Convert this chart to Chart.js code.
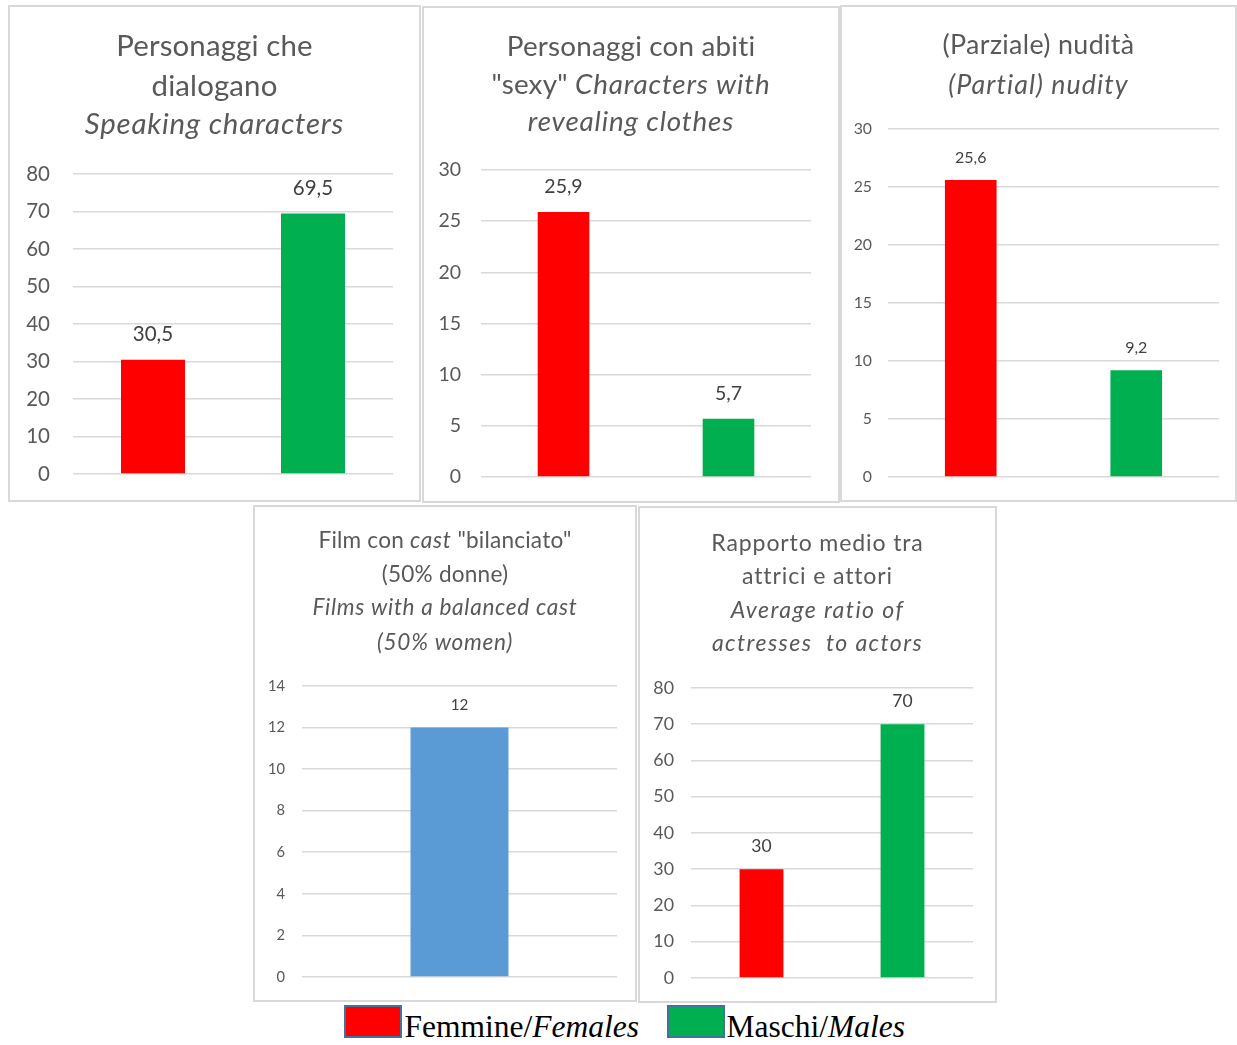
<!DOCTYPE html>
<html>
<head>
<meta charset="utf-8">
<script src="https://cdn.jsdelivr.net/npm/chart.js@4.4.0/dist/chart.umd.min.js"></script>
<style>
  html, body { margin: 0; padding: 0; background: #ffffff; }
  body { position: relative; width: 1237px; height: 1045px; overflow: hidden; font-family: Lato, sans-serif; }
  canvas { position: absolute; }
  .frame { position: absolute; box-sizing: border-box; border: 2px solid #d9d9d9; pointer-events: none; }
  .swatch { position: absolute; box-sizing: border-box; border: 2px solid #41719c; }
  .ltext { position: absolute; font-family: "Liberation Serif", "Times New Roman", serif; font-size: 31.5px; line-height: 32px; color: #000; white-space: nowrap; }
</style>
</head>
<body>
<canvas id="c1"></canvas>
<canvas id="c2"></canvas>
<canvas id="c3"></canvas>
<canvas id="c4"></canvas>
<canvas id="c5"></canvas>
<div id="legend"></div>
<script>
// ---------------- DATA ----------------
const categories = ["Femmine/Females", "Maschi/Males"];
const speakingValues = [30.5, 69.5];
const revealingValues = [25.9, 5.7];
const nudityValues = [25.6, 9.2];
const balancedCategories = ["Film con cast bilanciato"];
const balancedValues = [12];
const ratioValues = [30, 70];

const speakingTicks = [0, 10, 20, 30, 40, 50, 60, 70, 80];
const revealingTicks = [0, 5, 10, 15, 20, 25, 30];
const nudityTicks = [0, 5, 10, 15, 20, 25, 30];
const balancedTicks = [0, 2, 4, 6, 8, 10, 12, 14];
const ratioTicks = [0, 10, 20, 30, 40, 50, 60, 70, 80];

const genderColors = ["#FF0000", "#00B050"];
const balancedColors = ["#5B9BD5"];

// ---------------- PLUGINS ----------------
function makeTitlePlugin(spec) {
  return {
    id: 'richTitle',
    afterDraw(chart) {
      const ctx = chart.ctx;
      ctx.save();
      ctx.fillStyle = '#595959';
      ctx.textBaseline = 'middle';
      ctx.textAlign = 'left';
      const cx = chart.width / 2;
      const setFont = s => {
        ctx.font = (s.i ? 'italic ' : '') + spec.size + 'px Lato';
        ctx.letterSpacing = (s.i ? spec.lsi : spec.ls) + 'px';
      };
      spec.lines.forEach((segs, k) => {
        let total = 0;
        const ws = segs.map(s => { setFont(s); const w = ctx.measureText(s.t).width; total += w; return w; });
        let x = cx - total / 2;
        segs.forEach((s, j) => { setFont(s); ctx.fillText(s.t, x, spec.ys[k]); x += ws[j]; });
      });
      ctx.restore();
    }
  };
}
function makeLabelPlugin(size, offset) {
  return {
    id: 'valueLabels',
    afterDatasetsDraw(chart) {
      const ctx = chart.ctx;
      ctx.save();
      ctx.font = size + 'px Lato';
      ctx.fillStyle = '#404040';
      ctx.textAlign = 'center';
      ctx.textBaseline = 'middle';
      const ds = chart.data.datasets[0];
      chart.getDatasetMeta(0).data.forEach((bar, i) => {
        ctx.fillText(String(ds.data[i]).replace('.', ','), bar.x, bar.y - offset);
      });
      ctx.restore();
    }
  };
}

function makeChart(id, g, labels, values, colors, ticks, st, titleSpec) {
  const canvas = document.getElementById(id);
  canvas.width = g.w; canvas.height = g.h;
  canvas.style.left = g.x + 'px'; canvas.style.top = g.y + 'px';
  canvas.style.width = g.w + 'px'; canvas.style.height = g.h + 'px';
  const fr = document.createElement('div');
  fr.className = 'frame';
  fr.style.left = g.x + 'px'; fr.style.top = g.y + 'px';
  fr.style.width = g.w + 'px'; fr.style.height = g.h + 'px';
  document.body.appendChild(fr);
  new Chart(canvas, {
    type: 'bar',
    data: {
      labels: labels,
      datasets: [{ data: values, backgroundColor: colors, borderWidth: 0, barPercentage: 1, categoryPercentage: st.barFrac }]
    },
    options: {
      responsive: false, animation: false, events: [],
      devicePixelRatio: 1,
      layout: { padding: { left: 0, right: g.right, top: g.top, bottom: g.bottom } },
      plugins: { legend: { display: false }, tooltip: { enabled: false }, title: { display: false } },
      scales: {
        x: { display: false },
        y: {
          min: ticks[0], max: ticks[ticks.length - 1],
          afterBuildTicks: s => { s.ticks = ticks.map(v => ({ value: v })); },
          afterFit: s => { s.width = g.left; s.paddingTop = 0; s.paddingBottom = 0; },
          grid: { color: '#d9d9d9', lineWidth: 1.6, drawTicks: false },
          border: { display: false },
          ticks: { padding: g.tickPad, color: '#595959', font: { family: 'Lato', size: st.tick } }
        }
      }
    },
    plugins: [makeTitlePlugin(titleSpec), makeLabelPlugin(st.label, st.offset)]
  });
}

// ---------------- CHARTS ----------------
makeChart('c1', { x: 8, y: 5, w: 413, h: 497, left: 65, right: 28, top: 169, bottom: 28, tickPad: 23 },
  categories, speakingValues, genderColors, speakingTicks,
  { barFrac: 0.4, tick: 20.5, label: 20.5, offset: 25 },
  { size: 29.4, ls: 0.15, lsi: 0.8, ys: [42, 82, 120], lines: [
    [{ t: 'Personaggi che' }],
    [{ t: 'dialogano' }],
    [{ t: 'Speaking characters', i: true }]
  ] });

makeChart('c2', { x: 422, y: 6, w: 418, h: 497, left: 59, right: 29, top: 164, bottom: 26, tickPad: 20 },
  categories, revealingValues, genderColors, revealingTicks,
  { barFrac: 0.313, tick: 19.5, label: 19.5, offset: 25 },
  { size: 27.8, ls: 0.2, lsi: 0.85, ys: [41, 79, 116], lines: [
    [{ t: 'Personaggi con abiti' }],
    [{ t: '"sexy" ' }, { t: 'Characters with', i: true }],
    [{ t: 'revealing clothes', i: true }]
  ] });

makeChart('c3', { x: 840, y: 5, w: 397, h: 497, left: 48, right: 18, top: 124, bottom: 25, tickPad: 16 },
  categories, nudityValues, genderColors, nudityTicks,
  { barFrac: 0.312, tick: 15.8, label: 16, offset: 22 },
  { size: 26.8, ls: 0.35, lsi: 1.05, ys: [40, 80], lines: [
    [{ t: '(Parziale) nudità' }],
    [{ t: '(Partial) nudity', i: true }]
  ] });

makeChart('c4', { x: 253, y: 505, w: 384, h: 497, left: 49, right: 20, top: 181, bottom: 25, tickPad: 17 },
  balancedCategories, balancedValues, balancedColors, balancedTicks,
  { barFrac: 0.311, tick: 14.7, label: 15.2, offset: 22 },
  { size: 22.6, ls: 0.2, lsi: 0.7, ys: [36, 70, 103, 138], lines: [
    [{ t: 'Film con ' }, { t: 'cast', i: true }, { t: ' "bilanciato"' }],
    [{ t: '(50% donne)' }],
    [{ t: 'Films with a balanced cast', i: true }],
    [{ t: '(50% women)', i: true }]
  ] });

makeChart('c5', { x: 638, y: 506, w: 359, h: 497, left: 53, right: 24, top: 182, bottom: 25, tickPad: 17 },
  categories, ratioValues, genderColors, ratioTicks,
  { barFrac: 0.311, tick: 17.8, label: 17.5, offset: 23 },
  { size: 23.1, ls: 0.85, lsi: 1.4, ys: [37.5, 71, 104.5, 138], lines: [
    [{ t: 'Rapporto medio tra' }],
    [{ t: 'attrici e attori' }],
    [{ t: 'Average ratio of', i: true }],
    [{ t: 'actresses  to actors', i: true }]
  ] });

// ---------------- LEGEND ----------------
const legendPos = [{ box: 344, text: 404.5 }, { box: 667, text: 726.5 }];
const legend = document.getElementById('legend');
categories.forEach((c, i) => {
  const [it, en] = c.split('/');
  const sw = document.createElement('div');
  sw.className = 'swatch';
  sw.style.cssText = `left:${legendPos[i].box}px;top:1005px;width:58px;height:33px;background:${genderColors[i]}`;
  legend.appendChild(sw);
  const tx = document.createElement('div');
  tx.className = 'ltext';
  tx.style.left = legendPos[i].text + 'px';
  tx.style.top = '1010.5px';
  tx.innerHTML = `${it}/<i>${en}</i>`;
  legend.appendChild(tx);
});
</script>
</body>
</html>
